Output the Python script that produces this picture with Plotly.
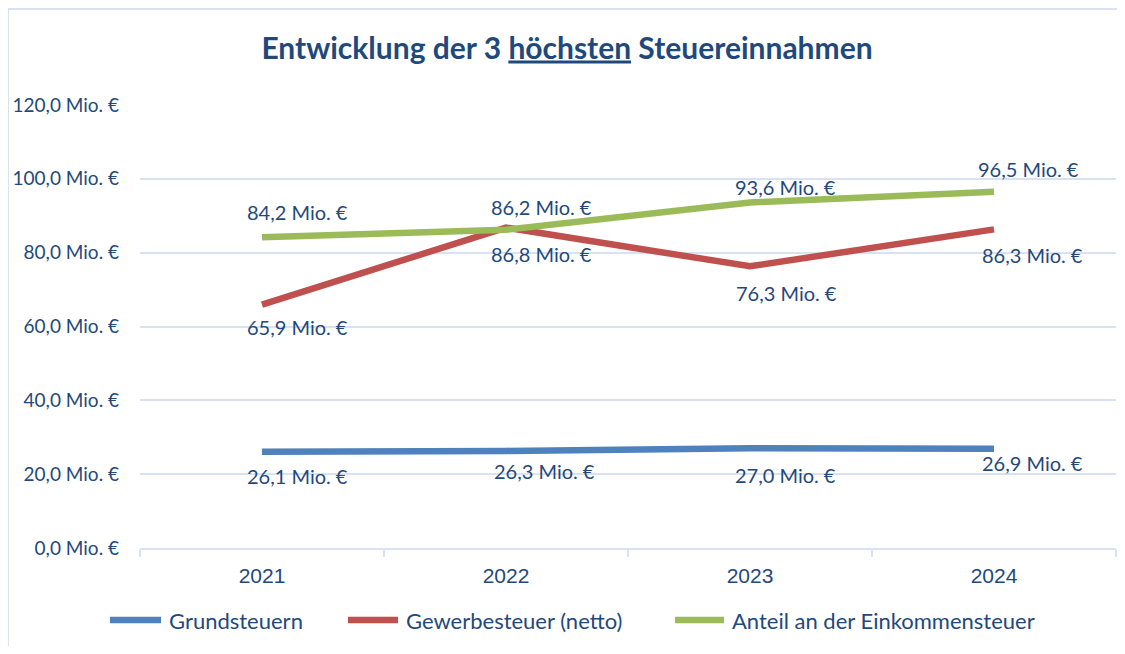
import plotly.graph_objects as go

# ---- data ----
years = ["2021", "2022", "2023", "2024"]
grundsteuern = [26.1, 26.3, 27.0, 26.9]
gewerbesteuer = [65.9, 86.8, 76.3, 86.3]
einkommensteuer = [84.2, 86.2, 93.6, 96.5]
series_names = ["Grundsteuern", "Gewerbesteuer (netto)", "Anteil an der Einkommensteuer"]
y_ticks = [0, 20, 40, 60, 80, 100, 120]

# ---- styles ----
TEXT = "#1F497D"
GRID = "#D9E2F3"
colors = ["#4F81BD", "#C0504D", "#9BBB59"]
label_yshift = [[-24, -20, -27, -14], [-22, -26, -27, -26], [25, 23, 15, 23]]
label_xshift = [[35, 38, 35, 38], [35, 35, 36, 38], [35, 35, 35, 34]]
FONT = "Lato, Calibri, sans-serif"
# legend layout (reference pixels): line start, line end, text start, row centre
legend_x = [(107, 164, 167), (345, 401, 404), (672, 727, 730)]
legend_row_y = 620


def fmt(v):
    return f"{v:.1f}".replace(".", ",") + " Mio. €"


fig = go.Figure()
all_series = [grundsteuern, gewerbesteuer, einkommensteuer]
for name, vals, col in zip(series_names, all_series, colors):
    fig.add_trace(go.Scatter(
        x=years, y=vals, mode="lines", name=name,
        line=dict(color=col, width=6.5),
        hoverinfo="skip", showlegend=False,
    ))

annotations = []
for si, vals in enumerate(all_series):
    for i, v in enumerate(vals):
        # category axes take the category index for annotations
        annotations.append(dict(
            x=i, y=v, xref="x", yref="y", text=fmt(v), showarrow=False,
            xshift=label_xshift[si][i], yshift=label_yshift[si][i],
            font=dict(family=FONT, size=20, color=TEXT),
        ))

# page body has an 8px default margin: work in figure pixels = reference - 8
OFF = 8
W, H = 1117, 638
plot_l, plot_r, plot_t, plot_b = 132, 1108, 97, 540
pw, ph = plot_r - plot_l, plot_b - plot_t


def px_x(p):
    return (p - OFF - plot_l) / pw


def px_y(p):
    return (plot_b - (p - OFF)) / ph


shapes = [dict(
    type="rect", xref="paper", yref="paper",
    x0=px_x(OFF), x1=px_x(W + 20), y0=px_y(H + 30), y1=px_y(9),
    line=dict(color=GRID, width=2), fillcolor="rgba(0,0,0,0)", layer="below",
)]

# legend drawn by hand to reproduce long line samples and spacing
for (x0, x1, xt), name, col in zip(legend_x, series_names, colors):
    shapes.append(dict(
        type="line", xref="paper", yref="paper",
        x0=px_x(x0 + 3), x1=px_x(x1 - 3), y0=px_y(legend_row_y), y1=px_y(legend_row_y),
        line=dict(color=col, width=6.5),
    ))
    annotations.append(dict(
        x=px_x(xt), y=px_y(legend_row_y), xref="paper", yref="paper",
        xanchor="left", yanchor="middle", text=name, showarrow=False,
        font=dict(family=FONT, size=22, color=TEXT),
    ))

fig.update_layout(
    width=W, height=H,
    margin=dict(l=plot_l, r=W - plot_r, t=plot_t, b=H - plot_b, pad=0),
    paper_bgcolor="white", plot_bgcolor="white",
    separators=",.",
    title=dict(
        text="<b>Entwicklung der 3 <u>höchsten</u> Steuereinnahmen</b>",
        x=559 / W, xref="container", xanchor="center",
        y=1 - 40 / H, yref="container", yanchor="middle",
        font=dict(family=FONT, size=30, color=TEXT),
    ),
    showlegend=False,
    xaxis=dict(
        type="category", range=[-0.5, 3.5], automargin=False,
        showgrid=False, zeroline=False,
        showline=True, linecolor=GRID, linewidth=2,
        tickson="boundaries", ticks="outside", ticklen=7, tickcolor=GRID, tickwidth=2,
        tickfont=dict(family="Liberation Sans, Arial, sans-serif", size=21, color=TEXT),
        ticklabelstandoff=8,
        fixedrange=True,
    ),
    yaxis=dict(
        range=[0, 120], tickmode="array", tickvals=y_ticks, automargin=False,
        ticktext=[fmt(t) for t in y_ticks],
        showgrid=True, gridcolor=GRID, gridwidth=1.5,
        zeroline=False, showline=False, ticks="",
        tickfont=dict(family=FONT, size=19, color=TEXT),
        ticklabelstandoff=20,
        fixedrange=True,
    ),
    annotations=annotations,
    shapes=shapes,
)

fig.write_html("out.html", include_plotlyjs=True)
